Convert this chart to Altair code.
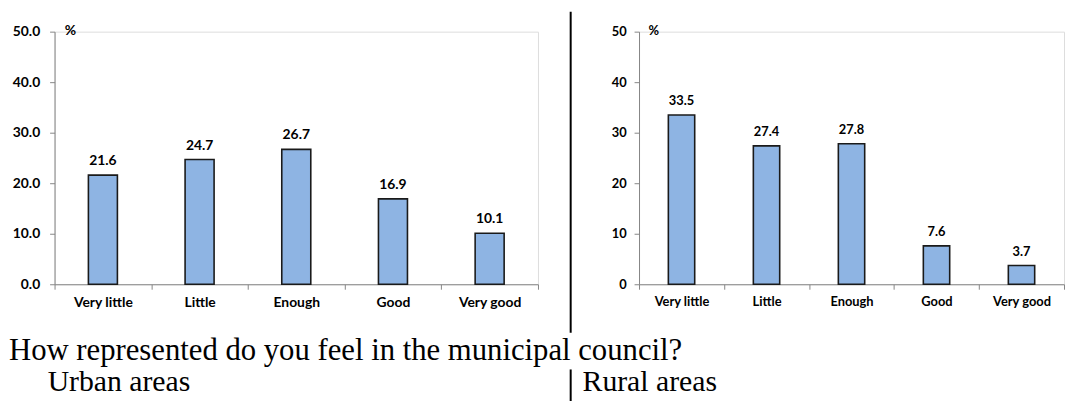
import altair as alt
import pandas as pd

categories = ["Very little", "Little", "Enough", "Good", "Very good"]
urban_values = [21.6, 24.7, 26.7, 16.9, 10.1]
rural_values = [33.5, 27.4, 27.8, 7.6, 3.7]
y_ticks = [0, 10, 20, 30, 40, 50]
question = ["How represented do you feel in the municipal council?"]
urban_label = ["Urban areas"]
rural_label = ["Rural areas"]
unit = ["%"]

FONT = "Lato"
SERIF = "Liberation Serif"
BAR_FILL = "#8EB4E3"
AXIS_GRAY = "#868686"
PLOT_H = 255


def text_layer(txt, x, y, size, font, weight="normal", align="left", baseline="alphabetic"):
    return alt.Chart(pd.DataFrame({"t": txt})).mark_text(
        align=align, baseline=baseline, font=font, fontSize=size,
        fontWeight=weight, color="black"
    ).encode(x=alt.value(x), y=alt.value(y), text="t:N")


def panel(values, fmt, width, label_pad, fsize, band, extra):
    df = pd.DataFrame({"cat": categories, "value": values})
    base = alt.Chart(df)
    x = alt.X("cat:N", sort=categories,
              scale=alt.Scale(paddingInner=0, paddingOuter=0),
              axis=alt.Axis(title=None, labelAngle=0, tickBand="extent",
                            labelFont=FONT, labelFontWeight="bold", labelFontSize=fsize,
                            labelColor="black", labelPadding=6,
                            domainColor=AXIS_GRAY, tickColor=AXIS_GRAY,
                            tickSize=5, grid=False))
    y = alt.Y("value:Q", scale=alt.Scale(domain=[0, 50], nice=False),
              axis=alt.Axis(title=None, values=y_ticks, format=fmt,
                            labelFont=FONT, labelFontWeight="bold", labelFontSize=fsize,
                            labelColor="black", labelPadding=label_pad,
                            domainColor=AXIS_GRAY, tickColor=AXIS_GRAY,
                            tickSize=5, grid=False))
    bars = base.mark_bar(width=alt.RelativeBandSize(band), color=BAR_FILL,
                         stroke="#1a1a1a", strokeWidth=1.6).encode(x=x, y=y)
    labels = base.mark_text(baseline="bottom", dy=-7, font=FONT, fontWeight="bold",
                            fontSize=fsize, color="black").encode(
        x=alt.X("cat:N", sort=categories),
        y=alt.Y("value:Q"),
        text=alt.Text("value:Q", format=".1f"))
    layers = [bars, labels] + extra
    return alt.layer(*layers).properties(width=width, height=PLOT_H)


left_extra = [
    text_layer(unit, 16, -1, 14, FONT, "bold", "center", "middle"),
    text_layer(question, -46, 331, 31, SERIF),
    text_layer(urban_label, -7, 363, 30, SERIF),
]

sep_upper = alt.Chart(pd.DataFrame({"a": [0]})).mark_rule(color="black", strokeWidth=2).encode(
    x=alt.value(-69), y=alt.value(-20), y2=alt.value(304))
sep_lower = alt.Chart(pd.DataFrame({"a": [0]})).mark_rule(color="black", strokeWidth=2).encode(
    x=alt.value(-69), y=alt.value(341), y2=alt.value(373))

right_extra = [
    text_layer(unit, 15, -1, 13, FONT, "bold", "center", "middle"),
    text_layer(rural_label, -57, 363, 30, SERIF),
    sep_upper,
    sep_lower,
]

left = panel(urban_values, ".1f", 488, 10, 14, 0.30, left_extra)
right = panel(rural_values, "d", 429, 8, 13, 0.31, right_extra)

chart = alt.hconcat(left, right, spacing=102, bounds="flush").properties(
    padding={"left": 0, "top": 0, "right": 0, "bottom": 0}
).configure_view(stroke=None).configure(background="white")

chart.save("out.html", embed_options={"renderer": "svg", "actions": False})
